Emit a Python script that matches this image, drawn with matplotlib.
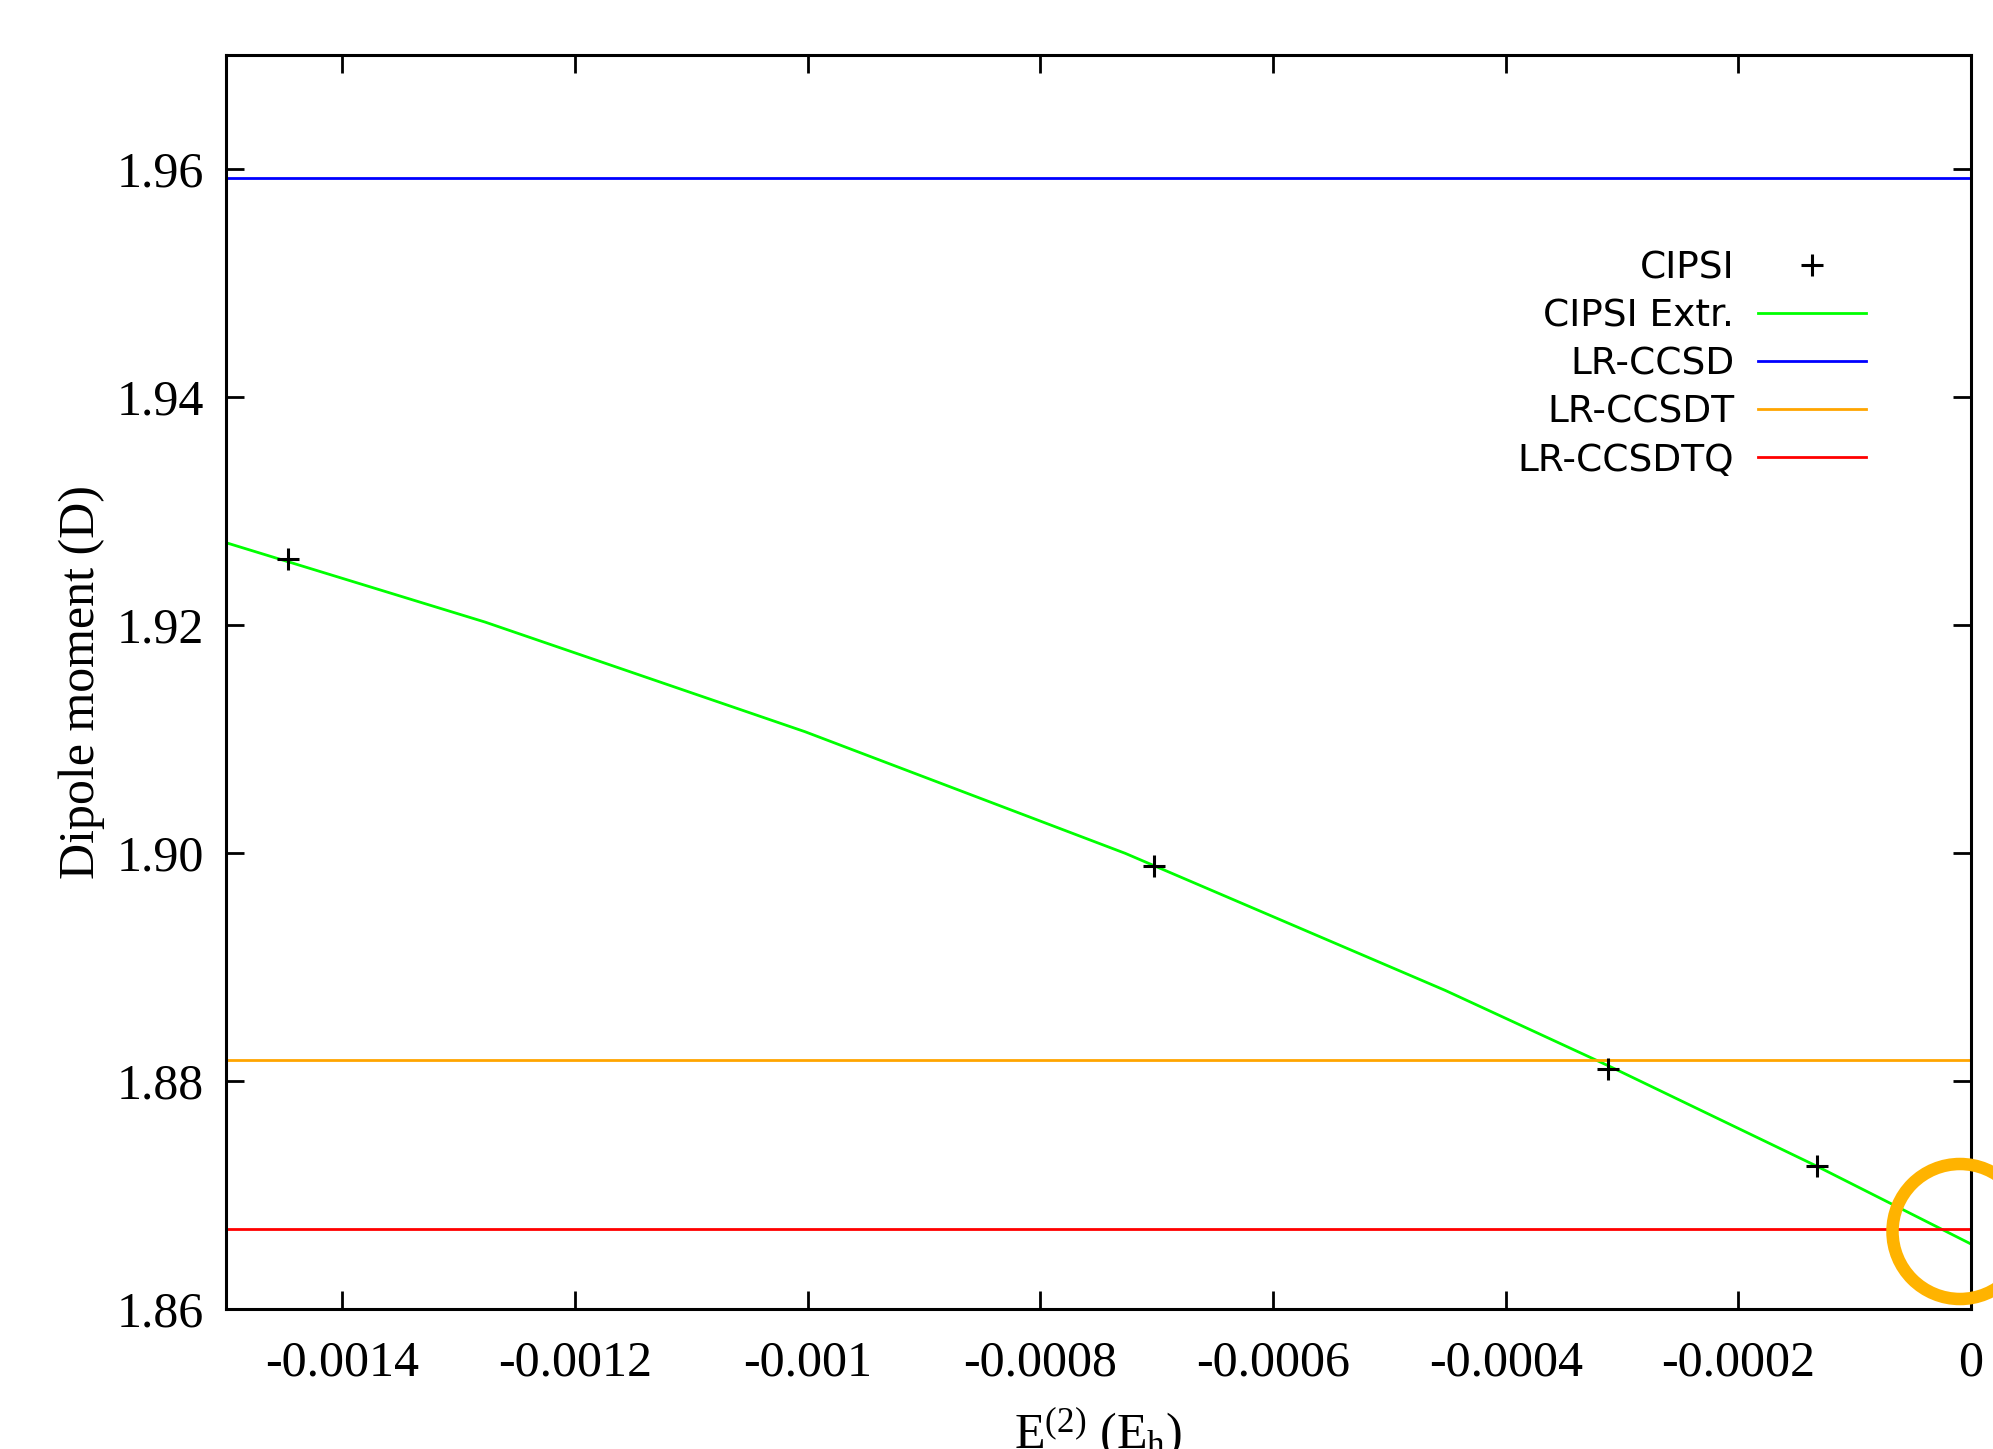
import matplotlib.pyplot as plt
import matplotlib.patches as mpatches
import numpy as np

plt.rcParams['font.family'] = 'Liberation Serif'
plt.rcParams['mathtext.fontset'] = 'custom'
plt.rcParams['mathtext.rm'] = 'Liberation Serif'
plt.rcParams['mathtext.it'] = 'Liberation Serif:italic'

# CIPSI points (E(2) in Eh, dipole in D)
cipsi_x = [-0.001447, -0.000702, -0.000312, -0.000132]
cipsi_y = [1.92576, 1.89886, 1.88103, 1.87254]

# extrapolation curve
extr_x = [-0.0015, -0.0012774, -0.0010023, -0.000727, -0.000452, -0.000312, -0.000132, 0.0]
extr_y = [1.92722, 1.92026, 1.91064, 1.89997, 1.88795, 1.88135, 1.87250, 1.86570]

ccsd = 1.95924
ccsdt = 1.88184
ccsdtq = 1.86699

xticks = [-0.0014, -0.0012, -0.001, -0.0008, -0.0006, -0.0004, -0.0002, 0]
xticklabels = ['-0.0014', '-0.0012', '-0.001', '-0.0008', '-0.0006', '-0.0004', '-0.0002', '0']
yticks = [1.86, 1.88, 1.90, 1.92, 1.94, 1.96]
yticklabels = ['1.86', '1.88', '1.90', '1.92', '1.94', '1.96']

fig = plt.figure(figsize=(19.93, 14.49), dpi=100)
ax = fig.add_axes([226/1993, 1 - 1309/1449, 1745/1993, 1254/1449])

ax.plot(cipsi_x, cipsi_y, ls='none', marker='+', ms=16, mew=2.2, color='black', label='CIPSI', zorder=5)
ax.plot(extr_x, extr_y, color='#00ff00', lw=2.0, label='CIPSI Extr.')
ax.axhline(ccsd, color='#0000ff', lw=2.0, label='LR-CCSD')
ax.axhline(ccsdt, color='#ffa500', lw=2.0, label='LR-CCSDT')
ax.axhline(ccsdtq, color='#ff0000', lw=2.0, label='LR-CCSDTQ')

ax.set_xlim(-0.0015, 0)
ax.set_ylim(1.86, 1.97)
ax.set_xticks(xticks)
ax.set_xticklabels(xticklabels)
ax.set_yticks(yticks)
ax.set_yticklabels(yticklabels)
ax.tick_params(direction='in', length=13, width=2, top=True, right=True, labelsize=36)
ax.tick_params(axis='x', pad=22)
ax.tick_params(axis='y', pad=16)
for s in ax.spines.values():
    s.set_linewidth(2.2)

ax.set_xlabel(r'E$^{(2)}$ (E$_{\mathrm{h}}$)', fontsize=36, labelpad=14)
ax.set_ylabel('Dipole moment (D)', fontsize=36, labelpad=8)

leg = ax.legend(loc='upper right', bbox_to_anchor=(0.94, 0.844), frameon=False,
                markerfirst=False, prop={'family': 'DejaVu Sans', 'size': 27},
                handlelength=2.9, handletextpad=0.62, labelspacing=0.32,
                borderpad=0, borderaxespad=0)

# highlight circle at the extrapolated value
circ = mpatches.Ellipse((1960/1993, 1 - 1231.5/1449), 135/1993, 135/1449,
                        transform=fig.transFigure, fill=False, ec='#ffb300', lw=9, clip_on=False, zorder=10)
fig.patches.append(circ)

fig.savefig('out.png', dpi=100)
